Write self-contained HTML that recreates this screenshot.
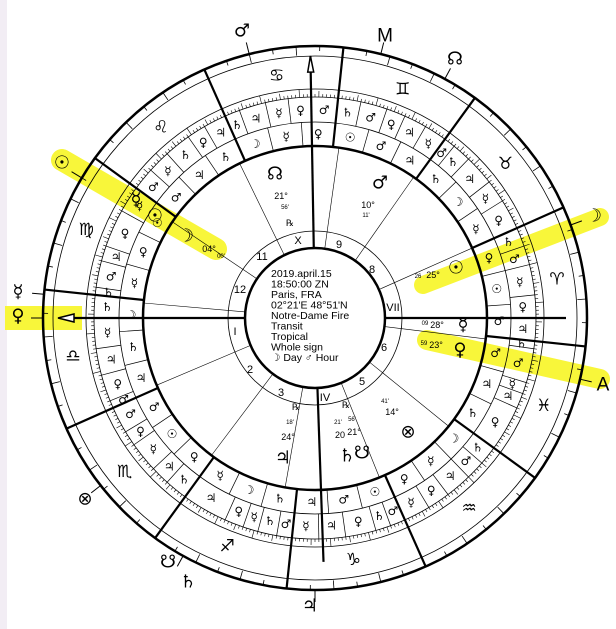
<!DOCTYPE html>
<html><head><meta charset="utf-8">
<style>
html,body{margin:0;padding:0;background:#fff;}
svg{display:block}
text{dominant-baseline:central;text-anchor:middle;}
.g{font-family:"DejaVu Sans",sans-serif;}
.n{font-family:"Liberation Sans",sans-serif;}
</style></head>
<body>
<svg id="s" width="616" height="629" viewBox="0 0 616 629" xmlns="http://www.w3.org/2000/svg">
<rect width="616" height="629" fill="#fff"/>
<rect x="0" y="0" width="7" height="629" fill="#f2edf4"/>
<g stroke="#f8f63a" stroke-linecap="round" fill="none">
<line x1="62" y1="160" x2="216" y2="249" stroke-width="22"/>
<line x1="423" y1="285" x2="600" y2="217" stroke-width="18"/>
<line x1="427" y1="340" x2="600" y2="379" stroke-width="20"/>
</g>
<rect x="5" y="306" width="77" height="24" fill="#f8f63a"/>

<g id="chart" transform="translate(315 318)" fill="none" stroke="#000">
<circle r="272" stroke-width="2.5"/>
<circle r="262" stroke-width="0.8"/>
<circle r="229" stroke-width="0.8"/>
<circle r="221" stroke-width="0.8"/>
<circle r="196" stroke-width="0.8"/>
<circle r="172" stroke-width="2.5"/>
<circle r="87" stroke-width="0.8"/>
<circle r="70" stroke-width="2.5"/>
<g id="dyn"></g>
<g stroke-width="2.2">
<line x1="70" y1="0" x2="262" y2="0" transform="rotate(-91)"/>
<line x1="70" y1="0" x2="244" y2="0" transform="rotate(-272)"/>
<line x1="70" y1="0" x2="255" y2="0" transform="rotate(-180)"/>
<line x1="70" y1="0" x2="251" y2="0"/>
</g>
<polygon points="262,0 246,-3 246,3" fill="#fff" stroke-width="1.5" transform="rotate(-91)"/>
<polygon points="257,0 241,-4 241,4" fill="#fff" stroke-width="1.5" transform="rotate(-180)"/>
</g>

<g class="g" font-size="17" fill="#000" transform="translate(315 318)">
<text transform="rotate(-9) translate(245) rotate(9)">♈&#xFE0E;</text>
<text transform="rotate(-39) translate(245) rotate(39)">♉&#xFE0E;</text>
<text transform="rotate(-69) translate(245) rotate(69)">♊&#xFE0E;</text>
<text transform="rotate(-99) translate(245) rotate(99)">♋&#xFE0E;</text>
<text transform="rotate(-129) translate(245) rotate(129)">♌&#xFE0E;</text>
<text transform="rotate(-159) translate(245) rotate(159)">♍&#xFE0E;</text>
<text transform="rotate(-189) translate(245) rotate(189)">♎&#xFE0E;</text>
<text transform="rotate(-219) translate(245) rotate(219)">♏&#xFE0E;</text>
<text transform="rotate(-249) translate(245) rotate(249)">♐&#xFE0E;</text>
<text transform="rotate(-279) translate(245) rotate(279)">♑&#xFE0E;</text>
<text transform="rotate(-309) translate(245) rotate(309)">♒&#xFE0E;</text>
<text transform="rotate(-339) translate(245) rotate(339)">♓&#xFE0E;</text>
</g>

<g class="g" font-size="12" fill="#000" transform="translate(315 318)">
<text transform="rotate(-357) translate(208) rotate(357)">♃</text>
<text transform="rotate(-3) translate(208) rotate(3)">♀</text>
<text transform="rotate(-10) translate(208) rotate(10)">☿</text>
<text transform="rotate(-16.5) translate(208) rotate(16.5)">♂</text>
<text transform="rotate(-21.5) translate(208) rotate(21.5)">♄</text>
<text transform="rotate(-28) translate(208) rotate(28)">♀</text>
<text transform="rotate(-35) translate(208) rotate(35)">☿</text>
<text transform="rotate(-42) translate(208) rotate(42)">♃</text>
<text transform="rotate(-48.5) translate(208) rotate(48.5)">♄</text>
<text transform="rotate(-52.5) translate(208) rotate(52.5)">♂</text>
<text transform="rotate(-57) translate(208) rotate(57)">☿</text>
<text transform="rotate(-63) translate(208) rotate(63)">♃</text>
<text transform="rotate(-68.5) translate(208) rotate(68.5)">♀</text>
<text transform="rotate(-74.5) translate(208) rotate(74.5)">♂</text>
<text transform="rotate(-81) translate(208) rotate(81)">♄</text>
<text transform="rotate(-87.5) translate(208) rotate(87.5)">♂</text>
<text transform="rotate(-94) translate(208) rotate(94)">♀</text>
<text transform="rotate(-100) translate(208) rotate(100)">☿</text>
<text transform="rotate(-106.5) translate(208) rotate(106.5)">♃</text>
<text transform="rotate(-112) translate(208) rotate(112)">♄</text>
<text transform="rotate(-117) translate(208) rotate(117)">♃</text>
<text transform="rotate(-122.5) translate(208) rotate(122.5)">♀</text>
<text transform="rotate(-128.5) translate(208) rotate(128.5)">♄</text>
<text transform="rotate(-135) translate(208) rotate(135)">☿</text>
<text transform="rotate(-141) translate(208) rotate(141)">♂</text>
<text transform="rotate(-147.5) translate(208) rotate(147.5)">☿</text>
<text transform="rotate(-156) translate(208) rotate(156)">♀</text>
<text transform="rotate(-163) translate(208) rotate(163)">♃</text>
<text transform="rotate(-168.5) translate(208) rotate(168.5)">♂</text>
<text transform="rotate(-173) translate(208) rotate(173)">♄</text>
<text transform="rotate(-177) translate(208) rotate(177)">♄</text>
<text transform="rotate(-184) translate(208) rotate(184)">☿</text>
<text transform="rotate(-191.5) translate(208) rotate(191.5)">♃</text>
<text transform="rotate(-198.5) translate(208) rotate(198.5)">♀</text>
<text transform="rotate(-203) translate(208) rotate(203)">♂</text>
<text transform="rotate(-207.5) translate(208) rotate(207.5)">♂</text>
<text transform="rotate(-213) translate(208) rotate(213)">♀</text>
<text transform="rotate(-219) translate(208) rotate(219)">☿</text>
<text transform="rotate(-225.5) translate(208) rotate(225.5)">♃</text>
<text transform="rotate(-231) translate(208) rotate(231)">♄</text>
<text transform="rotate(-240) translate(208) rotate(240)">♃</text>
<text transform="rotate(-248.5) translate(208) rotate(248.5)">♀</text>
<text transform="rotate(-253) translate(208) rotate(253)">☿</text>
<text transform="rotate(-257.5) translate(208) rotate(257.5)">♄</text>
<text transform="rotate(-262) translate(208) rotate(262)">♂</text>
<text transform="rotate(-267.5) translate(208) rotate(267.5)">☿</text>
<text transform="rotate(-274.5) translate(208) rotate(274.5)">♃</text>
<text transform="rotate(-282) translate(208) rotate(282)">♀</text>
<text transform="rotate(-288) translate(208) rotate(288)">♄</text>
<text transform="rotate(-292) translate(208) rotate(292)">♂</text>
<text transform="rotate(-297.5) translate(208) rotate(297.5)">☿</text>
<text transform="rotate(-304) translate(208) rotate(304)">♀</text>
<text transform="rotate(-310.5) translate(208) rotate(310.5)">♃</text>
<text transform="rotate(-316.5) translate(208) rotate(316.5)">♂</text>
<text transform="rotate(-321.5) translate(208) rotate(321.5)">♄</text>
<text transform="rotate(-330) translate(208) rotate(330)">♀</text>
<text transform="rotate(-338) translate(208) rotate(338)">♃</text>
<text transform="rotate(-341.5) translate(208) rotate(341.5)">☿</text>
<text transform="rotate(-347.5) translate(208) rotate(347.5)">♂</text>
<text transform="rotate(-353) translate(208) rotate(353)">♄</text>
</g>

<g class="g" font-size="12" fill="#000" transform="translate(315 318)">
<text transform="rotate(-359) translate(184) rotate(359)">♂</text>
<text transform="rotate(-9) translate(184) rotate(9)">☉</text>
<text transform="rotate(-19) translate(184) rotate(19)">♀</text>
<text transform="rotate(-29) translate(184) rotate(29)">☿</text>
<text transform="rotate(-39) translate(184) rotate(39)">☽</text>
<text transform="rotate(-49) translate(184) rotate(49)">♄</text>
<text transform="rotate(-59) translate(184) rotate(59)">♃</text>
<text transform="rotate(-69) translate(184) rotate(69)">♂</text>
<text transform="rotate(-79) translate(184) rotate(79)">☉</text>
<text transform="rotate(-89) translate(184) rotate(89)">♀</text>
<text transform="rotate(-99) translate(184) rotate(99)">☿</text>
<text transform="rotate(-109) translate(184) rotate(109)">☽</text>
<text transform="rotate(-119) translate(184) rotate(119)">♄</text>
<text transform="rotate(-129) translate(184) rotate(129)">♃</text>
<text transform="rotate(-139) translate(184) rotate(139)">♂</text>
<text transform="rotate(-149) translate(184) rotate(149)">☉</text>
<text transform="rotate(-159) translate(184) rotate(159)">♀</text>
<text transform="rotate(-169) translate(184) rotate(169)">☿</text>
<text transform="rotate(-179) translate(184) rotate(179)">☽</text>
<text transform="rotate(-189) translate(184) rotate(189)">♄</text>
<text transform="rotate(-199) translate(184) rotate(199)">♃</text>
<text transform="rotate(-209) translate(184) rotate(209)">♂</text>
<text transform="rotate(-219) translate(184) rotate(219)">☉</text>
<text transform="rotate(-229) translate(184) rotate(229)">♀</text>
<text transform="rotate(-239) translate(184) rotate(239)">☿</text>
<text transform="rotate(-249) translate(184) rotate(249)">☽</text>
<text transform="rotate(-259) translate(184) rotate(259)">♄</text>
<text transform="rotate(-269) translate(184) rotate(269)">♃</text>
<text transform="rotate(-279) translate(184) rotate(279)">♂</text>
<text transform="rotate(-289) translate(184) rotate(289)">☉</text>
<text transform="rotate(-299) translate(184) rotate(299)">♀</text>
<text transform="rotate(-309) translate(184) rotate(309)">☿</text>
<text transform="rotate(-319) translate(184) rotate(319)">☽</text>
<text transform="rotate(-329) translate(184) rotate(329)">♄</text>
<text transform="rotate(-339) translate(184) rotate(339)">♃</text>
<text transform="rotate(-349) translate(184) rotate(349)">♂</text>
</g>

<g class="n" font-size="11" fill="#000">
<text x="298" y="241">X</text><text x="339" y="245">9</text><text x="372" y="270">8</text>
<text x="393" y="308">VII</text><text x="384" y="348">6</text><text x="362" y="382">5</text>
<text x="325" y="398">IV</text><text x="281" y="393">3</text><text x="250" y="370">2</text>
<text x="235" y="332">I</text><text x="240" y="290">12</text><text x="262" y="257">11</text>
</g>

<g class="n" font-size="10.5" fill="#000">
<text x="271" y="274" style="text-anchor:start">2019.april.15</text>
<text x="271" y="284.5" style="text-anchor:start">18:50:00 ZN</text>
<text x="271" y="295" style="text-anchor:start">Paris, FRA</text>
<text x="271" y="305.5" style="text-anchor:start">02°21'E  48°51'N</text>
<text x="271" y="316" style="text-anchor:start">Notre-Dame Fire</text>
<text x="271" y="326.5" style="text-anchor:start">Transit</text>
<text x="271" y="337" style="text-anchor:start">Tropical</text>
<text x="271" y="347.5" style="text-anchor:start">Whole sign</text>
<text x="271" y="358" style="text-anchor:start">☽ Day  ♂ Hour</text>
</g>

<g class="g" font-size="18" fill="#000">
<text x="275" y="174">☊</text>
<text x="380" y="183">♂</text>
<text x="456" y="268">☉</text>
<text x="463" y="325">☿</text>
<text x="460" y="350">♀</text>
<text x="408" y="432">⊗</text>
<text x="347" y="456">♄</text><text x="362" y="453">☋</text>
<text x="283" y="458">♃</text>
<text x="186" y="236">☽</text>
<text x="155" y="216">☉</text>
<text x="136" y="200">☿</text>
</g>
<g class="n" font-size="9" fill="#000">
<text x="281" y="196">21°</text><text x="285" y="208" font-size="6">56'</text>
<text x="368" y="205">10°</text><text x="366" y="216" font-size="6">11'</text>
<text x="433" y="275">25°</text><text x="418" y="277" font-size="6">26</text>
<text x="437" y="325">28°</text><text x="425" y="324" font-size="6">09</text>
<text x="436" y="345">23°</text><text x="424" y="344" font-size="6">59</text>
<text x="392" y="412">14°</text><text x="385" y="402" font-size="6">41'</text>
<text x="340" y="435">20</text><text x="354" y="432">21°</text>
<text x="338" y="423" font-size="6">21'</text><text x="352" y="420" font-size="6">56'</text>
<text x="288" y="437">24°</text><text x="290" y="423" font-size="6">18'</text>
<text x="209" y="249">04°</text><text x="221" y="257" font-size="6">00'</text>
<text x="290" y="224" class="g">℞</text><text x="346" y="406" class="g">℞</text><text x="296" y="408" class="g">℞</text>
</g>

<g class="g" font-size="18" fill="#000">
<text x="242" y="31">♂</text>
<text x="385" y="36" class="n" font-size="19">M</text>
<text x="455" y="59">☊</text>
<text x="594" y="216">☽</text>
<text x="603" y="385" class="n" font-size="19">A</text>
<text x="310" y="606">♃</text>
<text x="168" y="562">☋</text><text x="188" y="582">♄</text>
<text x="85" y="499">⊗</text>
<text x="18" y="292">☿</text>
<text x="18" y="316">♀</text>
<text x="62" y="163">☉</text>
</g>
<g stroke="#000" stroke-width="1" transform="translate(315 318)">
<line x1="272" x2="284" transform="rotate(-104)"/>
<line x1="272" x2="284" transform="rotate(-76)"/>
<line x1="272" x2="284" transform="rotate(-61.5)"/>
<line x1="272" x2="284" transform="rotate(-20)"/>
<line x1="272" x2="284" transform="rotate(-347)"/>
<line x1="272" x2="284" transform="rotate(-270)"/>
<line x1="272" x2="284" transform="rotate(-241)"/>
<line x1="272" x2="284" transform="rotate(-218)"/>
<line x1="272" x2="284" transform="rotate(-175)"/>
<line x1="272" x2="284" transform="rotate(-180)"/>
<line x1="272" x2="284" transform="rotate(-149)"/>
</g>

<script>
(function(){
var g=document.getElementById('dyn'),ns='http://www.w3.org/2000/svg';
function L(a,r1,r2,w){var t=-a*Math.PI/180,l=document.createElementNS(ns,'line');
l.setAttribute('x1',(r1*Math.cos(t)).toFixed(2));l.setAttribute('y1',(r1*Math.sin(t)).toFixed(2));
l.setAttribute('x2',(r2*Math.cos(t)).toFixed(2));l.setAttribute('y2',(r2*Math.sin(t)).toFixed(2));
l.setAttribute('stroke-width',w);g.appendChild(l);}
var T=[[6,6,8,5,5],[8,6,8,5,3],[6,6,5,7,6],[7,6,6,7,4],[6,5,7,6,6],[7,10,4,7,2],[6,8,7,7,2],[7,4,8,5,6],[12,5,4,5,4],[7,7,8,4,4],[7,6,7,5,5],[12,4,3,9,2]];
for(var s=0;s<12;s++){var S=354+30*s;L(S,172,272,2.2);
 var c=0;for(var k=0;k<4;k++){c+=T[s][k];L(S+c,196,221,0.7);}
 L(S+10,172,196,0.7);L(S+20,172,196,0.7);}
for(var d=0;d<360;d++){var a=354+d;var m=d%10==0?8:(d%5==0?6:3);L(a,221,221+m,0.6);
 if(d%5==0)L(a,272,272-(d%10==0?9:5),0.8);}
[116,82,55,24,353,321,292,260,233,203,175,146].forEach(function(a){L(a,70,172,0.6);});
})();
</script>
</svg>
</body></html>
